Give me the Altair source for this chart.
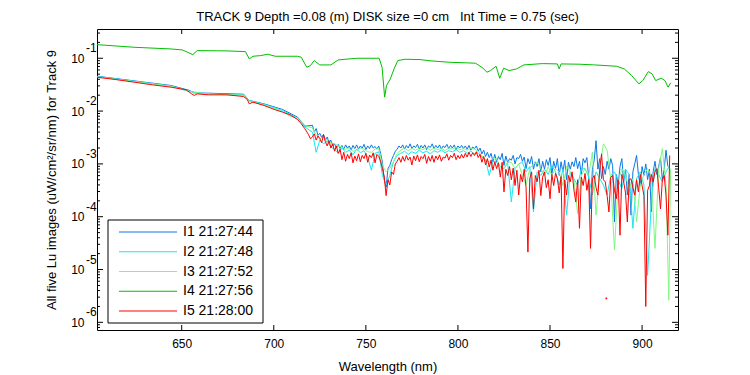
import altair as alt
import pandas as pd

# ---------------- data (log10 of Lu) ----------------
series_names = ["I1 21:27:44", "I2 21:27:48", "I3 21:27:52", "I4 21:27:56", "I5 21:28:00"]
series_colors = ["#0a78e6", "#19e6f0", "#80f880", "#00c000", "#ff0000"]

# I1 (blue)
wl_i1_a = [604.0, 624.2, 644.3, 654.4, 656.4, 664.5, 683.6, 686.7, 694.7, 704.8, 712.9, 716.9]
lg_i1_a = [-1.340, -1.428, -1.516, -1.611, -1.655, -1.661, -1.680, -1.800, -1.863, -1.970, -2.115, -2.285]
wl_i1_b = list(range(721, 915))
lg_i1_b = [-2.27, -2.40, -2.33, -2.46, -2.42, -2.50, -2.44, -2.55, -2.49, -2.60,
           -2.55, -2.66, -2.62, -2.70, -2.63, -2.71, -2.65, -2.73, -2.64, -2.70,
           -2.66, -2.74, -2.65, -2.71, -2.64, -2.72, -2.66, -2.70, -2.63, -2.73,
           -2.66, -2.71, -2.64, -2.70, -2.67, -2.72, -2.66, -2.80, -2.97, -3.30,
           -3.44, -3.09, -3.03, -2.92, -2.84, -2.76, -2.72, -2.66, -2.70, -2.64,
           -2.72, -2.65, -2.70, -2.62, -2.71, -2.66, -2.69, -2.63, -2.72, -2.65,
           -2.70, -2.64, -2.73, -2.66, -2.69, -2.62, -2.71, -2.65, -2.70, -2.64,
           -2.72, -2.66, -2.69, -2.63, -2.71, -2.65, -2.70, -2.64, -2.73, -2.66,
           -2.70, -2.65, -2.71, -2.66, -2.72, -2.65, -2.74, -2.68, -2.71, -2.66,
           -2.76, -2.70, -2.81, -2.74, -2.86, -2.78, -2.88, -2.80, -2.96, -2.82,
           -2.97, -2.86, -2.92, -2.80, -3.03, -2.85, -2.98, -2.90, -2.93, -2.84,
           -3.00, -2.88, -2.90, -2.82, -2.95, -2.87, -3.09, -2.90, -3.00, -2.86,
           -3.10, -2.96, -3.05, -2.90, -3.15, -2.95, -3.10, -2.92, -3.03, -2.88,
           -3.20, -2.95, -3.09, -2.90, -3.22, -2.96, -3.15, -2.93, -3.30, -2.97,
           -3.10, -2.96, -3.05, -2.88, -3.09, -2.95, -3.20, -2.90, -2.98, -2.88,
           -3.25, -3.85, -3.10, -2.93, -2.56, -3.10, -2.90, -3.28, -3.05, -3.20,
           -2.95, -3.10, -2.90, -3.03, -4.10, -3.20, -3.40, -3.05, -2.90, -3.34,
           -3.10, -3.59, -3.20, -3.97, -3.15, -3.00, -2.84, -3.20, -3.41, -3.05,
           -3.22, -3.00, -3.30, -3.10, -3.91, -3.15, -2.95, -3.20, -3.05, -2.88,
           -3.30, -3.10, -2.74, -3.05]

# I2 (cyan)
wl_i2_a = [604.0, 624.2, 644.3, 654.4, 664.5, 683.6, 686.7, 694.7, 704.8, 712.9, 716.9]
lg_i2_a = [-1.346, -1.435, -1.529, -1.630, -1.674, -1.693, -1.800, -1.869, -1.989, -2.133, -2.303]
wl_i2_b = list(range(721, 916, 2))
lg_i2_b = [-2.40, -2.78, -2.55, -2.62, -2.57, -2.68, -2.72, -2.80, -2.70, -2.78,
           -2.74, -2.83, -2.72, -2.79, -2.75, -2.87, -3.12, -2.80, -2.77, -3.22,
           -3.40, -3.22, -2.96, -2.84, -2.80, -2.76, -2.82, -2.77, -2.80, -2.74,
           -2.79, -2.76, -2.81, -2.75, -2.78, -2.74, -2.79, -2.75, -2.77, -2.73,
           -2.78, -2.75, -2.80, -2.76, -2.81, -2.79, -2.87, -2.92, -3.22, -2.95,
           -2.97, -3.05, -3.09, -2.98, -3.72, -3.09, -3.00, -2.97, -3.15, -3.05,
           -3.91, -3.15, -3.22, -3.10, -3.20, -3.03, -3.15, -3.40, -3.10, -3.97,
           -3.15, -3.28, -3.41, -3.10, -3.09, -3.25, -3.59, -3.15, -3.28, -3.40,
           -3.59, -3.22, -3.15, -3.30, -3.47, -3.10, -3.20, -4.22, -3.28, -3.15,
           -3.40, -5.11, -3.72, -3.09, -3.20, -3.34, -3.15, -3.03]

# I3 (light green)
wl_i3_a = [604.0, 624.2, 644.3, 654.4, 664.5, 683.6, 686.7, 694.7, 704.8, 708.8, 712.9, 716.9]
lg_i3_a = [-1.353, -1.441, -1.529, -1.630, -1.680, -1.699, -1.812, -1.882, -2.008, -2.096, -2.133, -2.272]
wl_i3_b = list(range(721, 914, 2)) + [914.5, 915.5]
lg_i3_b = [-2.32, -2.45, -2.52, -2.50, -2.56, -2.60, -2.62, -2.66, -2.68, -2.72,
           -2.71, -2.76, -2.74, -2.70, -2.72, -2.77, -2.78, -2.72, -2.71, -3.03,
           -3.15, -3.09, -2.96, -2.80, -2.74, -2.70, -2.75, -2.71, -2.74, -2.70,
           -2.73, -2.69, -2.74, -2.70, -2.73, -2.71, -2.75, -2.70, -2.72, -2.69,
           -2.73, -2.71, -2.74, -2.70, -2.72, -2.76, -2.84, -2.92, -2.97, -2.90,
           -2.90, -3.05, -3.09, -2.96, -2.97, -3.09, -3.00, -3.22, -3.40, -3.09,
           -3.00, -2.97, -3.09, -3.22, -3.05, -3.22, -3.09, -3.15, -3.41, -3.05,
           -3.15, -3.30, -3.94, -3.22, -3.09, -3.22, -2.78, -3.97, -3.09, -2.62,
           -2.74, -3.30, -4.63, -3.34, -3.09, -3.22, -3.47, -3.28, -4.10, -3.41,
           -3.20, -3.09, -3.22, -4.60, -3.10, -2.71, -3.41,
           -5.58, -3.09]

# I4 (green)
wl_i4 = [604.0, 624.2, 644.3, 650.4, 656.0, 658.4, 674.6, 684.6, 686.7, 688.7, 692.7, 696.7, 700.8, 712.9,
         714.9, 717.9, 719.9, 721.9, 725.0, 731.0, 735.0, 745.1, 757.2, 758.8, 760.2, 761.2, 763.3, 765.3,
         767.3, 771.3, 779.4, 785.4, 795.5, 805.6, 809.6, 813.7, 815.7, 817.7, 820.7, 822.7, 824.8, 827.8,
         831.8, 835.8, 845.9, 854.0, 855.0, 856.0, 866.1, 874.1, 886.2, 890.3, 894.3, 898.3, 900.4, 903.4,
         905.4, 907.4, 910.4, 912.4, 914.1, 915.5]
lg_i4 = [-0.742, -0.792, -0.824, -0.843, -0.931, -0.855, -0.861, -0.874, -1.013, -0.962, -0.950, -0.924,
         -0.962, -0.962, -0.981, -1.170, -1.139, -1.044, -1.126, -1.126, -1.031, -1.000, -1.000, -1.170,
         -1.737, -1.516, -1.390, -1.202, -1.044, -1.019, -1.025, -1.050, -1.076, -1.088, -1.094, -1.189,
         -1.264, -1.233, -1.151, -1.378, -1.189, -1.233, -1.202, -1.126, -1.101, -1.107, -1.202, -1.107,
         -1.113, -1.126, -1.151, -1.202, -1.327, -1.485, -1.422, -1.252, -1.296, -1.422, -1.378, -1.422,
         -1.548, -1.466]

# I5 (red)
wl_i5_a = [604.0, 614.1, 624.2, 634.2, 644.3, 652.4, 655.4, 656.8, 658.4, 664.5, 674.6, 683.6, 685.6, 686.7,
           688.7, 694.7, 700.8, 704.8, 708.8, 712.9, 714.9, 716.9, 718.9, 719.9]
lg_i5_a = [-1.359, -1.403, -1.453, -1.504, -1.548, -1.598, -1.674, -1.705, -1.674, -1.693, -1.693, -1.724,
           -1.781, -1.863, -1.831, -1.894, -1.976, -2.020, -2.071, -2.159, -2.240, -2.335, -2.448, -2.524]
wl_i5_b = list(range(721, 916))
lg_i5_b = [-2.49, -2.43, -2.55, -2.47, -2.52, -2.60, -2.45, -2.58, -2.66, -2.56,
           -2.70, -2.62, -2.76, -2.66, -2.80, -2.72, -2.92, -2.78, -2.95, -2.82,
           -2.90, -2.79, -2.98, -2.85, -2.94, -2.81, -2.96, -2.84, -2.90, -2.80,
           -2.97, -2.83, -2.88, -2.79, -2.98, -2.82, -2.86, -2.95, -3.09, -3.25,
           -3.60, -3.30, -3.40, -3.15, -3.20, -3.00, -2.95, -2.88, -2.97, -2.86,
           -2.95, -2.84, -2.93, -2.87, -3.02, -2.85, -2.94, -2.83, -2.96, -2.86,
           -2.90, -2.82, -2.99, -2.86, -2.95, -2.84, -2.97, -2.85, -2.92, -2.83,
           -2.95, -2.87, -2.89, -2.81, -2.93, -2.84, -2.88, -2.80, -2.92, -2.84,
           -2.90, -2.82, -2.89, -2.80, -2.87, -2.78, -2.86, -2.79, -2.84, -2.77,
           -2.88, -2.82, -2.97, -2.86, -3.02, -2.90, -3.06, -2.93, -3.12, -2.96,
           -3.09, -2.98, -3.25, -2.97, -3.53, -3.10, -3.22, -3.05, -3.30, -3.08,
           -3.41, -3.12, -3.59, -3.20, -3.34, -3.10, -3.45, -4.67, -3.28, -3.15,
           -3.85, -3.22, -3.34, -3.12, -3.60, -3.25, -3.15, -3.45, -3.30, -3.66,
           -3.20, -3.41, -3.18, -3.28, -3.55, -3.24, -4.98, -3.30, -3.59, -3.22,
           -3.34, -3.15, -3.50, -3.72, -3.30, -4.22, -3.25, -3.41, -3.18, -3.50,
           -3.30, -4.60, -3.28, -3.22, -3.45, -3.59, -3.10, -2.81, -3.30, -3.34,
           -3.60, -3.91, -3.25, -3.22, -3.50, -3.66, -3.30, -4.35, -3.20, -3.34,
           -3.55, -4.10, -3.30, -3.28, -3.45, -3.59, -3.30, -3.53, -3.20, -3.41,
           -3.60, -5.70, -3.50, -3.41, -3.20, -3.34, -3.15, -3.09, -3.45, -3.85,
           -3.30, -3.22, -3.60, -4.35, -2.84]

# isolated I5 sample (line broken around it)
iso_wl = [880.6]
iso_lg = [-5.547]

x_ticks = [650, 700, 750, 800, 850, 900]
y_exps = [-6, -5, -4, -3, -2, -1]
y_exp_labels = ["-6", "-5", "-4", "-3", "-2", "-1"]

title_text = "TRACK 9 Depth =0.08 (m) DISK size =0 cm\u00a0\u00a0\u00a0Int Time = 0.75 (sec)"
x_title = "Wavelength (nm)"
y_title = "All five Lu images (uW/cm\u00b2/sr/nm) for Track 9"

# ---------------- layout ----------------
W, H = 581, 301
FONT = "Liberation Sans Narrow, Liberation Sans, Arial, sans-serif"
x_dom = [604.0, 919.5]
y_dom = [10 ** -6.145, 10 ** -0.446]

xs = alt.Scale(domain=x_dom, nice=False, zero=False)
ys = alt.Scale(type="log", domain=y_dom, nice=False)
color_scale = alt.Scale(domain=series_names, range=series_colors)

x_axis = alt.Axis(
    values=x_ticks, tickSize=0, domain=False, grid=False, labelPadding=8,
    labelFontSize=12, labelFont=FONT, labelColor="black", format="d",
    title=x_title, titleFont=FONT, titleFontSize=13, titleFontWeight="normal",
    titleColor="black", titleX=W / 2, titleY=36, titleBaseline="middle")

all_wl = [wl_i1_a + wl_i1_b, wl_i2_a + wl_i2_b, wl_i3_a + wl_i3_b, wl_i4, wl_i5_a + wl_i5_b]
all_lg = [lg_i1_a + lg_i1_b, lg_i2_a + lg_i2_b, lg_i3_a + lg_i3_b, lg_i4, lg_i5_a + lg_i5_b]

frames = []
for name, wl, lg in zip(series_names, all_wl, all_lg):
    frames.append(pd.DataFrame({"wl": wl, "lu": [10 ** v for v in lg], "series": name}))
data = pd.concat(frames, ignore_index=True)

decades = [10.0 ** e for e in y_exps]
minor = [m * 10.0 ** e for e in range(-7, 0) for m in range(2, 10)
         if y_dom[0] <= m * 10.0 ** e <= y_dom[1]]

lines = alt.Chart(data).mark_line(strokeWidth=1, clip=True).encode(
    x=alt.X("wl:Q", scale=xs, axis=x_axis),
    y=alt.Y("lu:Q", scale=ys, axis=alt.Axis(
        values=decades, labelExpr="'10'", tickSize=0, domain=False, grid=False,
        labelPadding=13, labelFontSize=12, labelFont=FONT, labelColor="black",
        labelBaseline="middle",
        title=y_title, titleFont=FONT, titleFontSize=13, titleFontWeight="normal",
        titleColor="black", titleX=-46, titleY=H / 2, titleAngle=-90,
        titleAlign="center", titleBaseline="middle")),
    color=alt.Color("series:N", scale=color_scale, legend=None),
    detail="series:N",
)

iso = alt.Chart(pd.DataFrame({"wl": iso_wl, "lu": [10 ** v for v in iso_lg]})).mark_square(
    size=3, color="#ff0000", opacity=1).encode(
    x=alt.X("wl:Q", scale=xs, axis=x_axis), y=alt.Y("lu:Q", scale=ys, axis=None))

exp_text = alt.Chart(pd.DataFrame({"v": decades, "t": y_exp_labels})).mark_text(
    align="left", baseline="middle", fontSize=12, font=FONT, color="black", dy=-10).encode(
    x=alt.value(-11), y=alt.Y("v:Q", scale=ys, axis=None), text="t:N")

def xtick(y0, y1):
    return alt.Chart(pd.DataFrame({"wl": x_ticks})).mark_rule(color="black", strokeWidth=1).encode(
        x=alt.X("wl:Q", scale=xs, axis=x_axis), y=alt.value(y0), y2=alt.value(y1))

def ytick(vals, x0, x1):
    return alt.Chart(pd.DataFrame({"t": vals})).mark_rule(color="black", strokeWidth=1).encode(
        y=alt.Y("t:Q", scale=ys, axis=None), x=alt.value(x0), x2=alt.value(x1))

ticks = [xtick(H, H - 5), xtick(0, 5),
         ytick(decades, 0, 6), ytick(minor, 0, 3),
         ytick(decades, W, W - 6), ytick(minor, W, W - 3)]

leg_df = pd.DataFrame({"label": series_names})
leg_y = alt.Y("label:N", scale=alt.Scale(type="point", domain=series_names, range=[203, 282], padding=0),
              axis=None)
leg_box = alt.Chart(pd.DataFrame({"k": [0]})).mark_rect(
    fill="white", stroke="black", strokeWidth=1).encode(
    x=alt.value(11), x2=alt.value(166), y=alt.value(191), y2=alt.value(294))
leg_lines = alt.Chart(leg_df).mark_rule(strokeWidth=1).encode(
    x=alt.value(22), x2=alt.value(80), y=leg_y,
    color=alt.Color("label:N", scale=color_scale, legend=None))
leg_text = alt.Chart(leg_df).mark_text(
    align="left", baseline="middle", fontSize=14, font=FONT, color="black").encode(
    x=alt.value(86), y=leg_y, text="label:N")

chart = alt.layer(lines, iso, *ticks, exp_text, leg_box, leg_lines, leg_text).resolve_scale(
    y="independent"
).properties(
    width=W, height=H,
    title=alt.TitleParams(title_text, font=FONT, fontSize=13, fontWeight="normal", color="black",
                          anchor="middle", offset=7, baseline="bottom", frame="group", dy=15),
    autosize=alt.AutoSizeParams(type="none"),
    padding={"left": 97, "top": 29, "right": 72, "bottom": 45},
    background="white",
).configure_view(stroke="black", strokeWidth=1)

chart.save("out.html", embed_options={"renderer": "svg", "actions": False})
